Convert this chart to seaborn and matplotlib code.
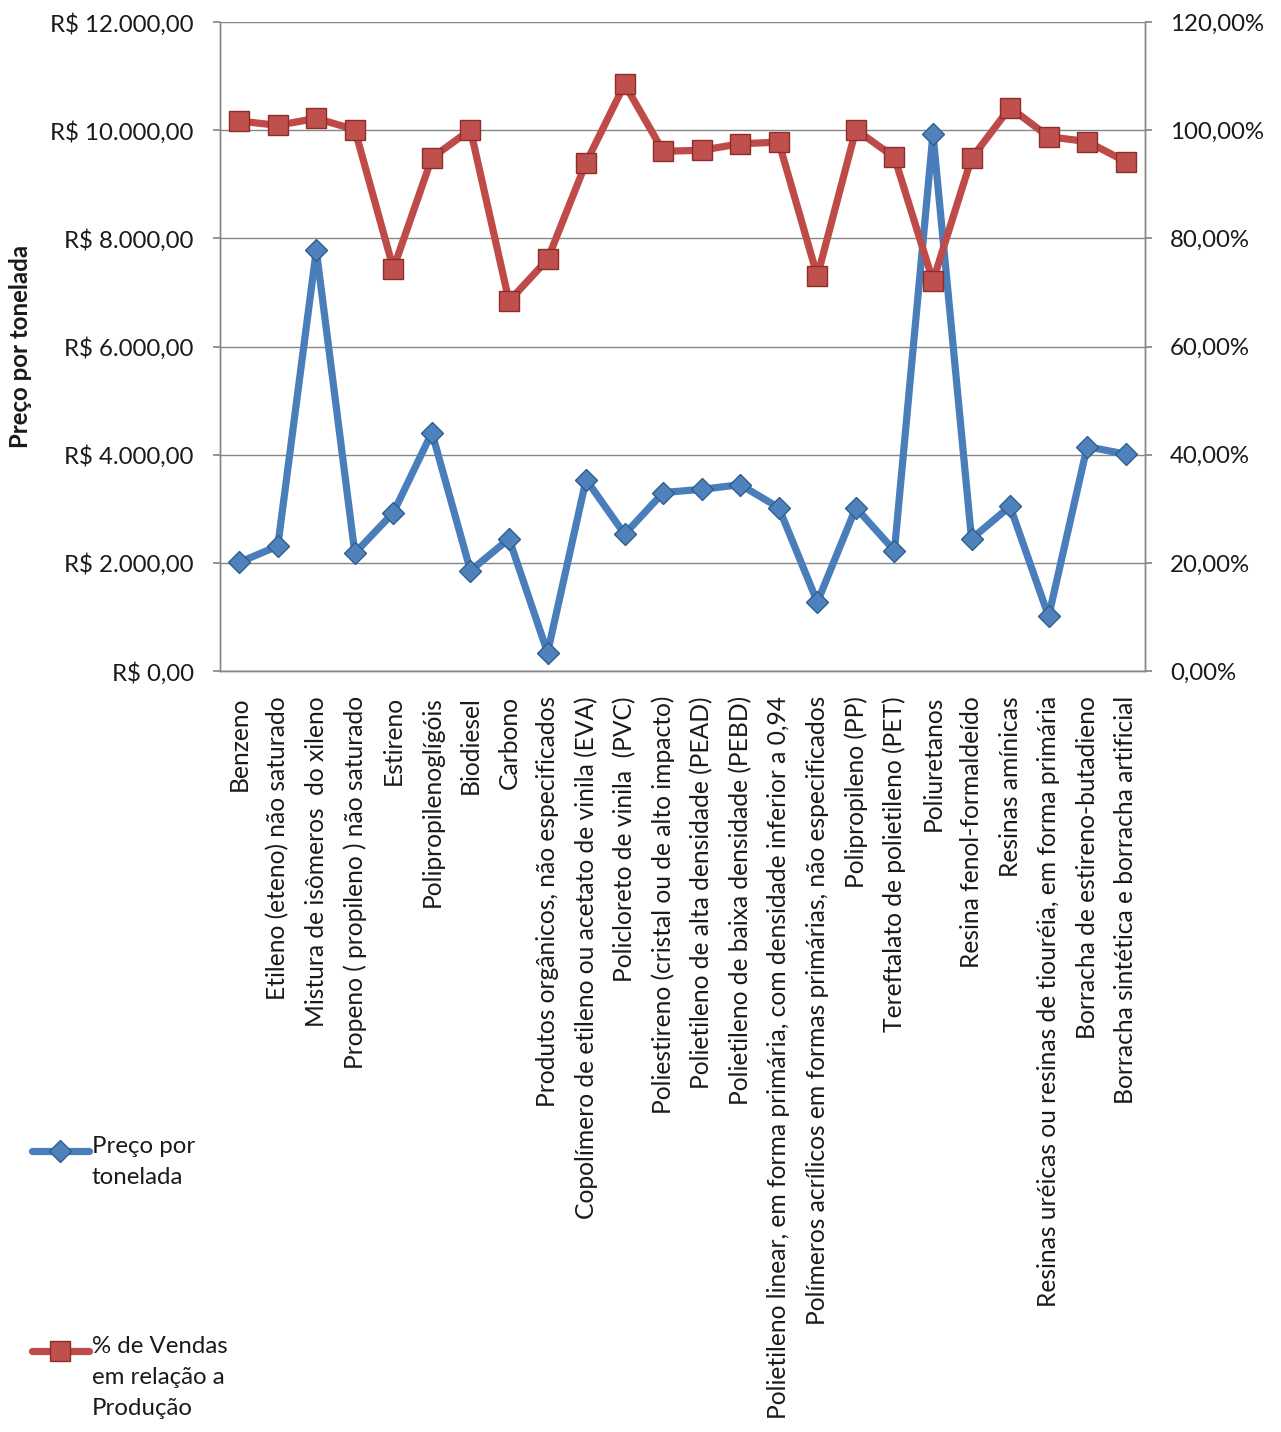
import numpy as np
import pandas as pd
import matplotlib
matplotlib.use("Agg")
import matplotlib.pyplot as plt
from matplotlib.lines import Line2D
from matplotlib.ticker import FuncFormatter, MultipleLocator
import seaborn as sns

categorias = [
    "Benzeno",
    "Etileno (eteno) não saturado",
    "Mistura de isômeros  do xileno",
    "Propeno ( propileno ) não saturado",
    "Estireno",
    "Polipropilenoglígóis",
    "Biodiesel",
    "Carbono",
    "Produtos orgânicos, não especificados",
    "Copolímero de etileno ou acetato de vinila (EVA)",
    "Policloreto de vinila  (PVC)",
    "Poliestireno (cristal ou de alto impacto)",
    "Polietileno de alta densidade (PEAD)",
    "Polietileno de baixa densidade (PEBD)",
    "Polietileno linear, em forma primária, com densidade inferior a 0,94",
    "Polímeros acrílicos em formas primárias, não especificados",
    "Polipropileno (PP)",
    "Tereftalato de polietileno (PET)",
    "Poliuretanos",
    "Resina fenol-formaldeído",
    "Resinas amínicas",
    "Resinas uréicas ou resinas de tiouréia, em forma primária",
    "Borracha de estireno-butadieno",
    "Borracha sintética e borracha artificial",
]

preco_tonelada = [
    2010, 2310, 7780, 2180, 2930, 4410, 1855, 2445, 340, 3540,
    2530, 3300, 3360, 3445, 3020, 1275, 3020, 2225, 9930, 2445,
    3045, 1010, 4150, 4010,
]

pct_vendas = [
    1.017, 1.009, 1.022, 1.001, 0.744, 0.949, 1.001, 0.684, 0.761, 0.940,
    1.085, 0.961, 0.963, 0.975, 0.978, 0.730, 1.001, 0.950, 0.721, 0.948,
    1.042, 0.988, 0.979, 0.942,
]

rotulo_preco = "Preço por\ntonelada"
rotulo_vendas = "% de Vendas\nem relação a\nProdução"

sns.set_theme(style="white")
fonte = ["Lato", "DejaVu Sans"]
plt.rcParams["font.family"] = fonte
cor_texto = "#1a1a1a"
cor_eixo = "#868686"
azul = "#4A7EBB"
azul_marc = "#4F81BD"
vermelho = "#BE4B48"
vermelho_marc = "#C0504D"
tam_fonte = 17.3

df = pd.DataFrame({
    "pos": np.arange(len(categorias)),
    "categoria": categorias,
    "preco": preco_tonelada,
    "vendas": pct_vendas,
})

fig = plt.figure(figsize=(12.81, 14.32), dpi=100)
ax = fig.add_axes([0.1717, 0.5314, 0.7221, 0.4532])
ax2 = ax.twinx()

sns.lineplot(data=df, x="pos", y="preco", ax=ax, sort=False, color=azul,
             linewidth=5.2, marker="D", markersize=11,
             markerfacecolor=azul_marc, markeredgecolor="#2F5E8E",
             markeredgewidth=1.0, zorder=3)
sns.lineplot(data=df, x="pos", y="vendas", ax=ax2, sort=False, color=vermelho,
             linewidth=5.2, marker="s", markersize=14,
             markerfacecolor=vermelho_marc, markeredgecolor="#8C2D2A",
             markeredgewidth=1.0, zorder=3)

n = len(categorias)
ax.set_xlim(-0.5, n - 0.5)
ax.set_ylim(0, 12000)
ax2.set_ylim(0, 1.2)
ax.yaxis.set_major_locator(MultipleLocator(2000))
ax2.yaxis.set_major_locator(MultipleLocator(0.2))


def fmt_real(v, _):
    s = f"{v:,.2f}".replace(",", "X").replace(".", ",").replace("X", ".")
    return f"R$ {s}"


def fmt_pct(v, _):
    return f"{v * 100:.2f}%".replace(".", ",")


ax.yaxis.set_major_formatter(FuncFormatter(fmt_real))
ax2.yaxis.set_major_formatter(FuncFormatter(fmt_pct))

ax.grid(axis="y", color=cor_eixo, linewidth=1.0)
ax.set_axisbelow(True)

ax.set_xticks(df["pos"])
ax.set_xticklabels(categorias, rotation=90, fontsize=17.7, color=cor_texto,
                   va="top", ha="center")
ax.tick_params(axis="x", length=0, pad=18)
ax.tick_params(axis="y", labelsize=tam_fonte, labelcolor=cor_texto, length=5,
               color=cor_eixo, direction="out", left=True, pad=14)
ax2.tick_params(axis="y", labelsize=tam_fonte, labelcolor=cor_texto, length=5,
                color=cor_eixo, direction="out", right=True, pad=13)

ax.set_xlabel("")
ax.set_ylabel("Preço por tonelada", fontsize=tam_fonte, fontweight="bold",
              color=cor_texto)
ax.yaxis.set_label_coords(-0.203, 0.5)
ax2.set_ylabel("")

for a in (ax, ax2):
    for lado, sp in a.spines.items():
        sp.set_color(cor_eixo)
        sp.set_linewidth(1.0)
    a.spines["top"].set_visible(False)

# legenda à esquerda, com as marcas alinhadas à primeira linha do texto
entradas = [
    (rotulo_preco, azul, "D", azul_marc, "#2F5E8E", 11, 1 - 1151 / 1432),
    (rotulo_vendas, vermelho, "s", vermelho_marc, "#8C2D2A", 14, 1 - 1351 / 1432),
]
for texto, cor, marca, face, borda, tam, y in entradas:
    fig.add_artist(Line2D([32 / 1281, 89 / 1281], [y, y], color=cor,
                          linewidth=5.2, solid_capstyle="round",
                          transform=fig.transFigure))
    fig.add_artist(Line2D([60 / 1281], [y], marker=marca, markersize=tam,
                          markerfacecolor=face, markeredgecolor=borda,
                          linestyle="none", transform=fig.transFigure))
    fig.text(92 / 1281, y + 15 / 1432, texto, fontsize=tam_fonte, color=cor_texto,
             va="top", ha="left", linespacing=1.6)

fig.savefig("out.png", dpi=100)
